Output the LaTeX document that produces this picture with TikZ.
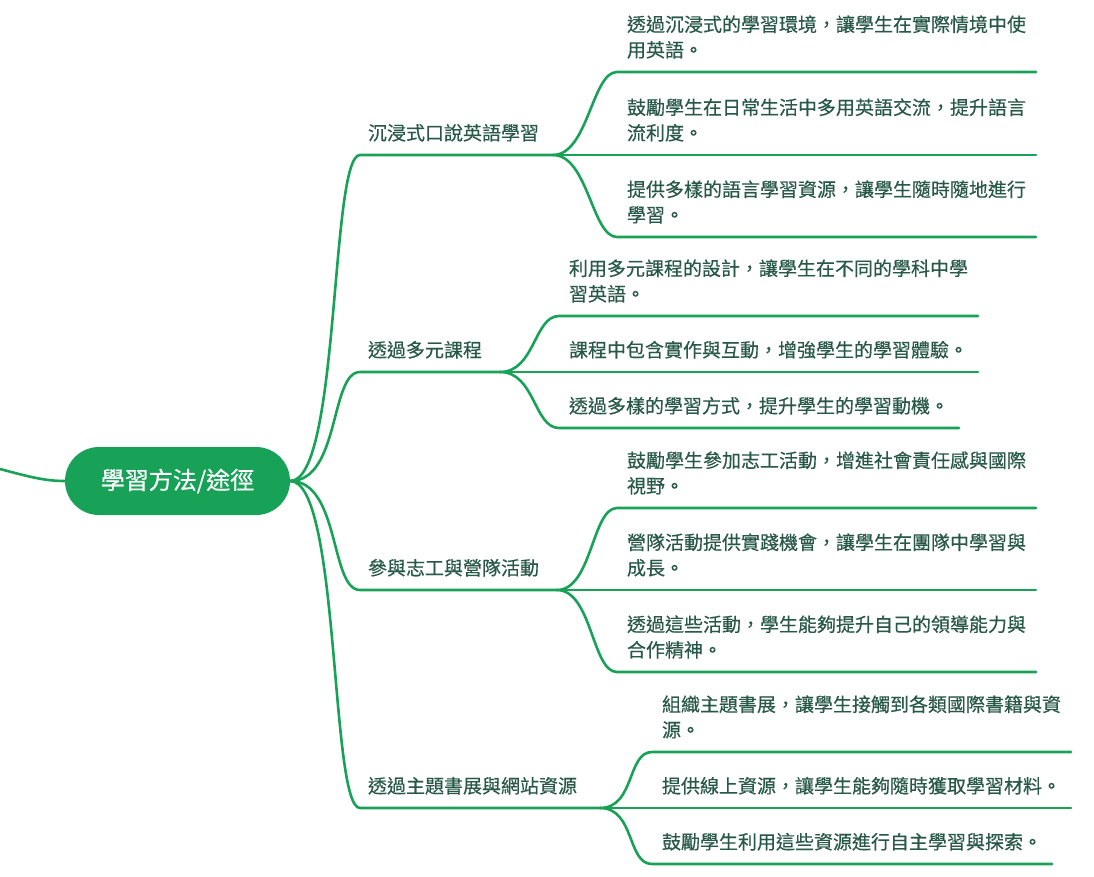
\documentclass[tikz,border=0pt]{standalone}
\usepackage{fontspec}
\setmainfont{Noto Sans CJK TC}[FakeBold=0.4]
\usetikzlibrary{positioning}
\definecolor{mapgreen}{HTML}{18A257}
\definecolor{maptext}{HTML}{285848}
\tikzset{
  root/.style={fill=mapgreen, text=white, rounded corners=34pt,
    minimum width=225pt, minimum height=68pt, font=\fontsize{24}{28}\selectfont},
  topic/.style={anchor=south west, inner xsep=8pt, inner ysep=11pt, text depth=4pt,
    outer sep=0pt, text=maptext, align=left, font=\fontsize{19}{25.5}\selectfont},
  leaf/.style={topic, inner xsep=10pt},
  link/.style={draw=mapgreen, line width=2.6pt, line cap=round}
}
\begin{document}
\begin{tikzpicture}[x=1pt, y=-1pt]
  \useasboundingbox (0,0) rectangle (1094,876);
  \node[root] (root) at (177.5,481) {學習方法/途徑};
  \coordinate (src) at (0,469);
  % main branches
  \node[topic] (b1) at (360,155) {沉浸式口說英語學習};
  \node[topic] (b2) at (360,372) {透過多元課程};
  \node[topic] (b3) at (360,590) {參與志工與營隊活動};
  \node[topic] (b4) at (360,808) {透過主題書展與網站資源};
  \coordinate (f1) at (553,155);
  \coordinate (f2) at (500,372);
  \coordinate (f3) at (557,590);
  \coordinate (f4) at (600,808);
  % leaves
  \node[leaf] (l11) at (617,72) {透過沉浸式的學習環境，讓學生在實際情境中使\\用英語。};
  \node[leaf] (l12) at (617,155) {鼓勵學生在日常生活中多用英語交流，提升語言\\流利度。};
  \node[leaf] (l13) at (617,237) {提供多樣的語言學習資源，讓學生隨時隨地進行\\學習。};
  \node[leaf] (l21) at (559,316) {利用多元課程的設計，讓學生在不同的學科中學\\習英語。};
  \node[leaf] (l22) at (559,372) {課程中包含實作與互動，增強學生的學習體驗。};
  \node[leaf] (l23) at (559,428) {透過多樣的學習方式，提升學生的學習動機。};
  \node[leaf] (l31) at (617,508) {鼓勵學生參加志工活動，增進社會責任感與國際\\視野。};
  \node[leaf] (l32) at (617,590) {營隊活動提供實踐機會，讓學生在團隊中學習與\\成長。};
  \node[leaf] (l33) at (617,672) {透過這些活動，學生能夠提升自己的領導能力與\\合作精神。};
  \node[leaf] (l41) at (652,752) {組織主題書展，讓學生接觸到各類國際書籍與資\\源。};
  \node[leaf] (l42) at (652,808) {提供線上資源，讓學生能夠隨時獲取學習材料。};
  \node[leaf] (l43) at (652,864) {鼓勵學生利用這些資源進行自主學習與探索。};
  % connectors
  \draw[link] (src) .. controls (30,477) and (45,481) .. (root.west);
  \foreach \b in {1,2,3,4} {
    \draw[link] (root.east) .. controls +(50,0) and +(-30,0) .. (b\b.south west) -- (f\b);
    \foreach \i in {1,2,3}
      \draw[link] (f\b) .. controls +(35,0) and +(-25,0) .. (l\b\i.south west) -- (l\b\i.south east);
  }
\end{tikzpicture}
\end{document}
